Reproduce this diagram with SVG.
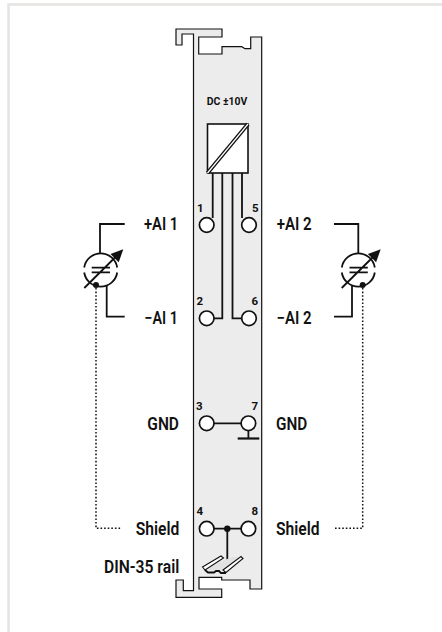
<svg xmlns="http://www.w3.org/2000/svg" width="442" height="632" viewBox="0 0 442 632">
<style>
text{font-family:"Roboto","Liberation Sans",sans-serif;font-weight:600;fill:#111}
.l{font-size:17.500px}.n{font-size:11.500px;font-weight:700}
.w{fill:none;stroke:#111;stroke-width:1.800}
.t{fill:#fff;stroke:#111;stroke-width:1.700}
.d{fill:none;stroke:#111;stroke-width:1.500;stroke-dasharray:1.600 2}
.f{fill:#fff;stroke:#111;stroke-width:1.100}
</style>
<rect width="442" height="632" fill="#fff"/>
<path d="M442 4.500H8.500V632" fill="none" stroke="#e6e4e2" stroke-width="2.500"/>
<g id="rail"><path d="M193.500 34H182V45H176V29H222V37H198.700V54H222V46.700H241.700L245 48.700H250.700V37H261.700V589H250V580H221.700V577.300H199V589H221.700V597.300H176V580H183.300V590.700H193.500Z" fill="#ececec" stroke="#111" stroke-width="1.200"/></g>
<g id="converter"><rect x="207.500" y="124" width="40.500" height="49" fill="#fff" stroke="#111" stroke-width="1.600"/><path d="M207.500 173L248 124" stroke="#111" stroke-width="4"/><path d="M207.500 173L248 124" stroke="#fff" stroke-width="1.200"/></g>
<g id="connectors">
<path class="w" d="M212.700 173V218M242 173V218M222.300 173V318.300H214M232.500 173V318.300H241M214 423.300H241M214 528.700H241M227.300 528.700V566M248.400 431V438.500"/>
<path d="M237.700 438.500H259.300" fill="none" stroke="#111" stroke-width="2.200"/>
<path class="w" d="M124.700 224H100V253.500M124.700 316.700H106.700V285M334 224H358.300V253.500M334 316.700H352V285"/>
<path class="d" d="M96 288V528.300H122M362.700 288V528.300H333"/>
<circle cx="227.300" cy="528.700" r="3.200" fill="#111"/>
</g>
<g id="t1"><circle class="t" cx="206.700" cy="225" r="7.300"/><text class="n" x="197" y="212.300">1</text></g>
<g id="t5"><circle class="t" cx="249" cy="225" r="7.300"/><text class="n" x="252" y="212.300">5</text></g>
<g id="t2"><circle class="t" cx="206.700" cy="318.300" r="7.300"/><text class="n" x="196.500" y="305">2</text></g>
<g id="t6"><circle class="t" cx="249" cy="318.300" r="7.300"/><text class="n" x="251.500" y="305">6</text></g>
<g id="t3"><circle class="t" cx="206.700" cy="423.300" r="7.300"/><text class="n" x="196" y="410">3</text></g>
<g id="t7"><circle class="t" cx="248.400" cy="423.300" r="7.300"/><text class="n" x="251.500" y="410">7</text></g>
<g id="t4"><circle class="t" cx="206.700" cy="528.700" r="7.300"/><text class="n" x="196.500" y="515">4</text></g>
<g id="t8"><circle class="t" cx="248.400" cy="528.700" r="7.300"/><text class="n" x="251.500" y="515">8</text></g>
<g id="din"><path d="M213 565L232 557H238L226 570H207Z" fill="#e2e2e2"/><path d="M205 570L208 572.500H214L216 571H219L221 573H226" fill="none" stroke="#111" stroke-width="1.800"/><path class="f" d="M202.500 567L221 556L223.500 558L205 570Z"/><path class="f" d="M223 570L241 556.500L243 558.500L226 572.500Z"/></g>
<g id="labels">
<text class="n" x="206.700" y="105" textLength="40.600" lengthAdjust="spacingAndGlyphs">DC ±10V</text>
<text class="l" x="144" y="230" textLength="34.300" lengthAdjust="spacingAndGlyphs">+AI 1</text>
<text class="l" x="144.500" y="324.300" textLength="33.500" lengthAdjust="spacingAndGlyphs">−AI 1</text>
<text class="l" x="276.700" y="230" textLength="35" lengthAdjust="spacingAndGlyphs">+AI 2</text>
<text class="l" x="276.700" y="324.300" textLength="35" lengthAdjust="spacingAndGlyphs">−AI 2</text>
<text class="l" x="147.300" y="430" textLength="31.700" lengthAdjust="spacingAndGlyphs">GND</text>
<text class="l" x="276" y="430" textLength="31.300" lengthAdjust="spacingAndGlyphs">GND</text>
<text class="l" x="135.700" y="535" textLength="43.600" lengthAdjust="spacingAndGlyphs">Shield</text>
<text class="l" x="276" y="535" textLength="43.600" lengthAdjust="spacingAndGlyphs">Shield</text>
<text class="l" x="104" y="573.300" textLength="75.300" lengthAdjust="spacingAndGlyphs">DIN-35 rail</text>
</g>
<g id="srcL"><path class="w" d="M84.200 267.500A16.700 16.700 0 0 1 117.200 267.500M117.200 272.500A16.700 16.700 0 0 1 84.200 272.500M91.700 267.700H110M91.700 272.300H110M84.300 288L117 255.500"/><path d="M123.300 249.300L110.500 254L118.700 262.200Z" fill="#111"/><circle cx="96" cy="285" r="3" fill="#111"/></g>
<g id="srcR"><path class="w" d="M341.800 267.500A16.700 16.700 0 0 1 374.800 267.500M374.800 272.500A16.700 16.700 0 0 1 341.800 272.500M349.500 267.700H367.800M349.500 272.300H367.800M341.700 288L374.500 255.500"/><path d="M380.700 249.300L367.900 254L376.100 262.200Z" fill="#111"/><circle cx="362.700" cy="285" r="3" fill="#111"/></g>
</svg>
